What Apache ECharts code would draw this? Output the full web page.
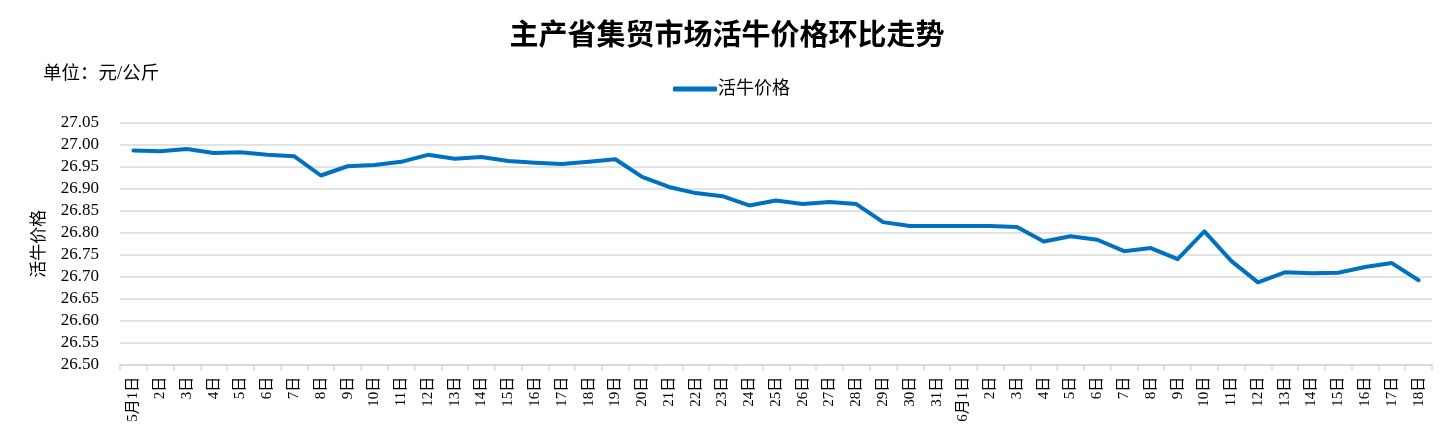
<!DOCTYPE html>
<html>
<head>
<meta charset="utf-8">
<script src="https://cdn.jsdelivr.net/npm/echarts@6/dist/echarts.min.js"></script>
<style>
html,body{margin:0;padding:0;background:#fff;}
#chart{width:1454px;height:445px;}
</style>
</head>
<body>
<div id="chart"></div>
<script>
var titleText = '主产省集贸市场活牛价格环比走势';
var unitText = '单位：元/公斤';
var seriesName = '活牛价格';
var categories = [
  '5月1日','2日','3日','4日','5日','6日','7日','8日','9日','10日',
  '11日','12日','13日','14日','15日','16日','17日','18日','19日','20日',
  '21日','22日','23日','24日','25日','26日','27日','28日','29日','30日','31日',
  '6月1日','2日','3日','4日','5日','6日','7日','8日','9日','10日',
  '11日','12日','13日','14日','15日','16日','17日','18日'
];
var prices = [
  26.987, 26.985, 26.990, 26.981, 26.983, 26.977, 26.974, 26.930, 26.951, 26.954,
  26.961, 26.977, 26.968, 26.972, 26.963, 26.959, 26.956, 26.961, 26.967, 26.927,
  26.904, 26.890, 26.883, 26.862, 26.873, 26.865, 26.870, 26.865, 26.824, 26.815, 26.815,
  26.815, 26.815, 26.813, 26.780, 26.792, 26.784, 26.758, 26.765, 26.740, 26.803,
  26.736, 26.687, 26.710, 26.708, 26.709, 26.722, 26.731, 26.692
];
var yMin = 26.5, yMax = 27.05, yStep = 0.05;

var serif = '"Liberation Serif", "Times New Roman", "Noto Sans CJK SC", serif';
var chart = echarts.init(document.getElementById('chart'));
chart.setOption({
  animation: false,
  backgroundColor: '#ffffff',
  title: {
    text: titleText,
    left: 'center',
    top: 18,
    textStyle: {fontFamily: serif, fontSize: 29, fontWeight: 'bold', color: '#000'}
  },
  graphic: [{
    type: 'text',
    left: 43,
    top: 65,
    style: {text: unitText, fontFamily: serif, fontSize: 18.5, fill: '#000'}
  }],
  legend: {
    data: [seriesName],
    left: 668,
    top: 75,
    icon: 'roundRect',
    itemWidth: 44,
    itemHeight: 5,
    itemGap: 4,
    textStyle: {fontFamily: serif, fontSize: 18, color: '#000', padding: [0,0,0,-4]}
  },
  grid: {left: 120, right: 22, top: 122.7, bottom: 80.3, containLabel: false},
  xAxis: {
    type: 'category',
    data: categories,
    boundaryGap: true,
    axisLine: {lineStyle: {color: '#d9d9d9', width: 1.5}},
    axisTick: {show: true, interval: 0, length: 6, lineStyle: {color: '#d9d9d9', width: 1.5}},
    axisLabel: {interval: 0, rotate: 90, margin: 12, fontFamily: serif, fontSize: 15, color: '#000'},
    splitLine: {show: false}
  },
  yAxis: {
    type: 'value',
    min: yMin,
    max: yMax,
    interval: yStep,
    name: seriesName,
    nameLocation: 'middle',
    nameRotate: 90,
    nameGap: 72,
    nameTextStyle: {fontFamily: serif, fontSize: 17, color: '#000'},
    axisLine: {show: false},
    axisTick: {show: false},
    axisLabel: {margin: 21, fontFamily: serif, fontSize: 17, color: '#000',
      formatter: function (v) { return v.toFixed(2); }},
    splitLine: {lineStyle: {color: '#d9d9d9', width: 1.5}}
  },
  series: [{
    name: seriesName,
    type: 'line',
    data: prices,
    showSymbol: false,
    symbol: 'none',
    lineStyle: {color: '#0070c0', width: 4, cap: 'round', join: 'round'},
    itemStyle: {color: '#0070c0'}
  }]
});
</script>
</body>
</html>
